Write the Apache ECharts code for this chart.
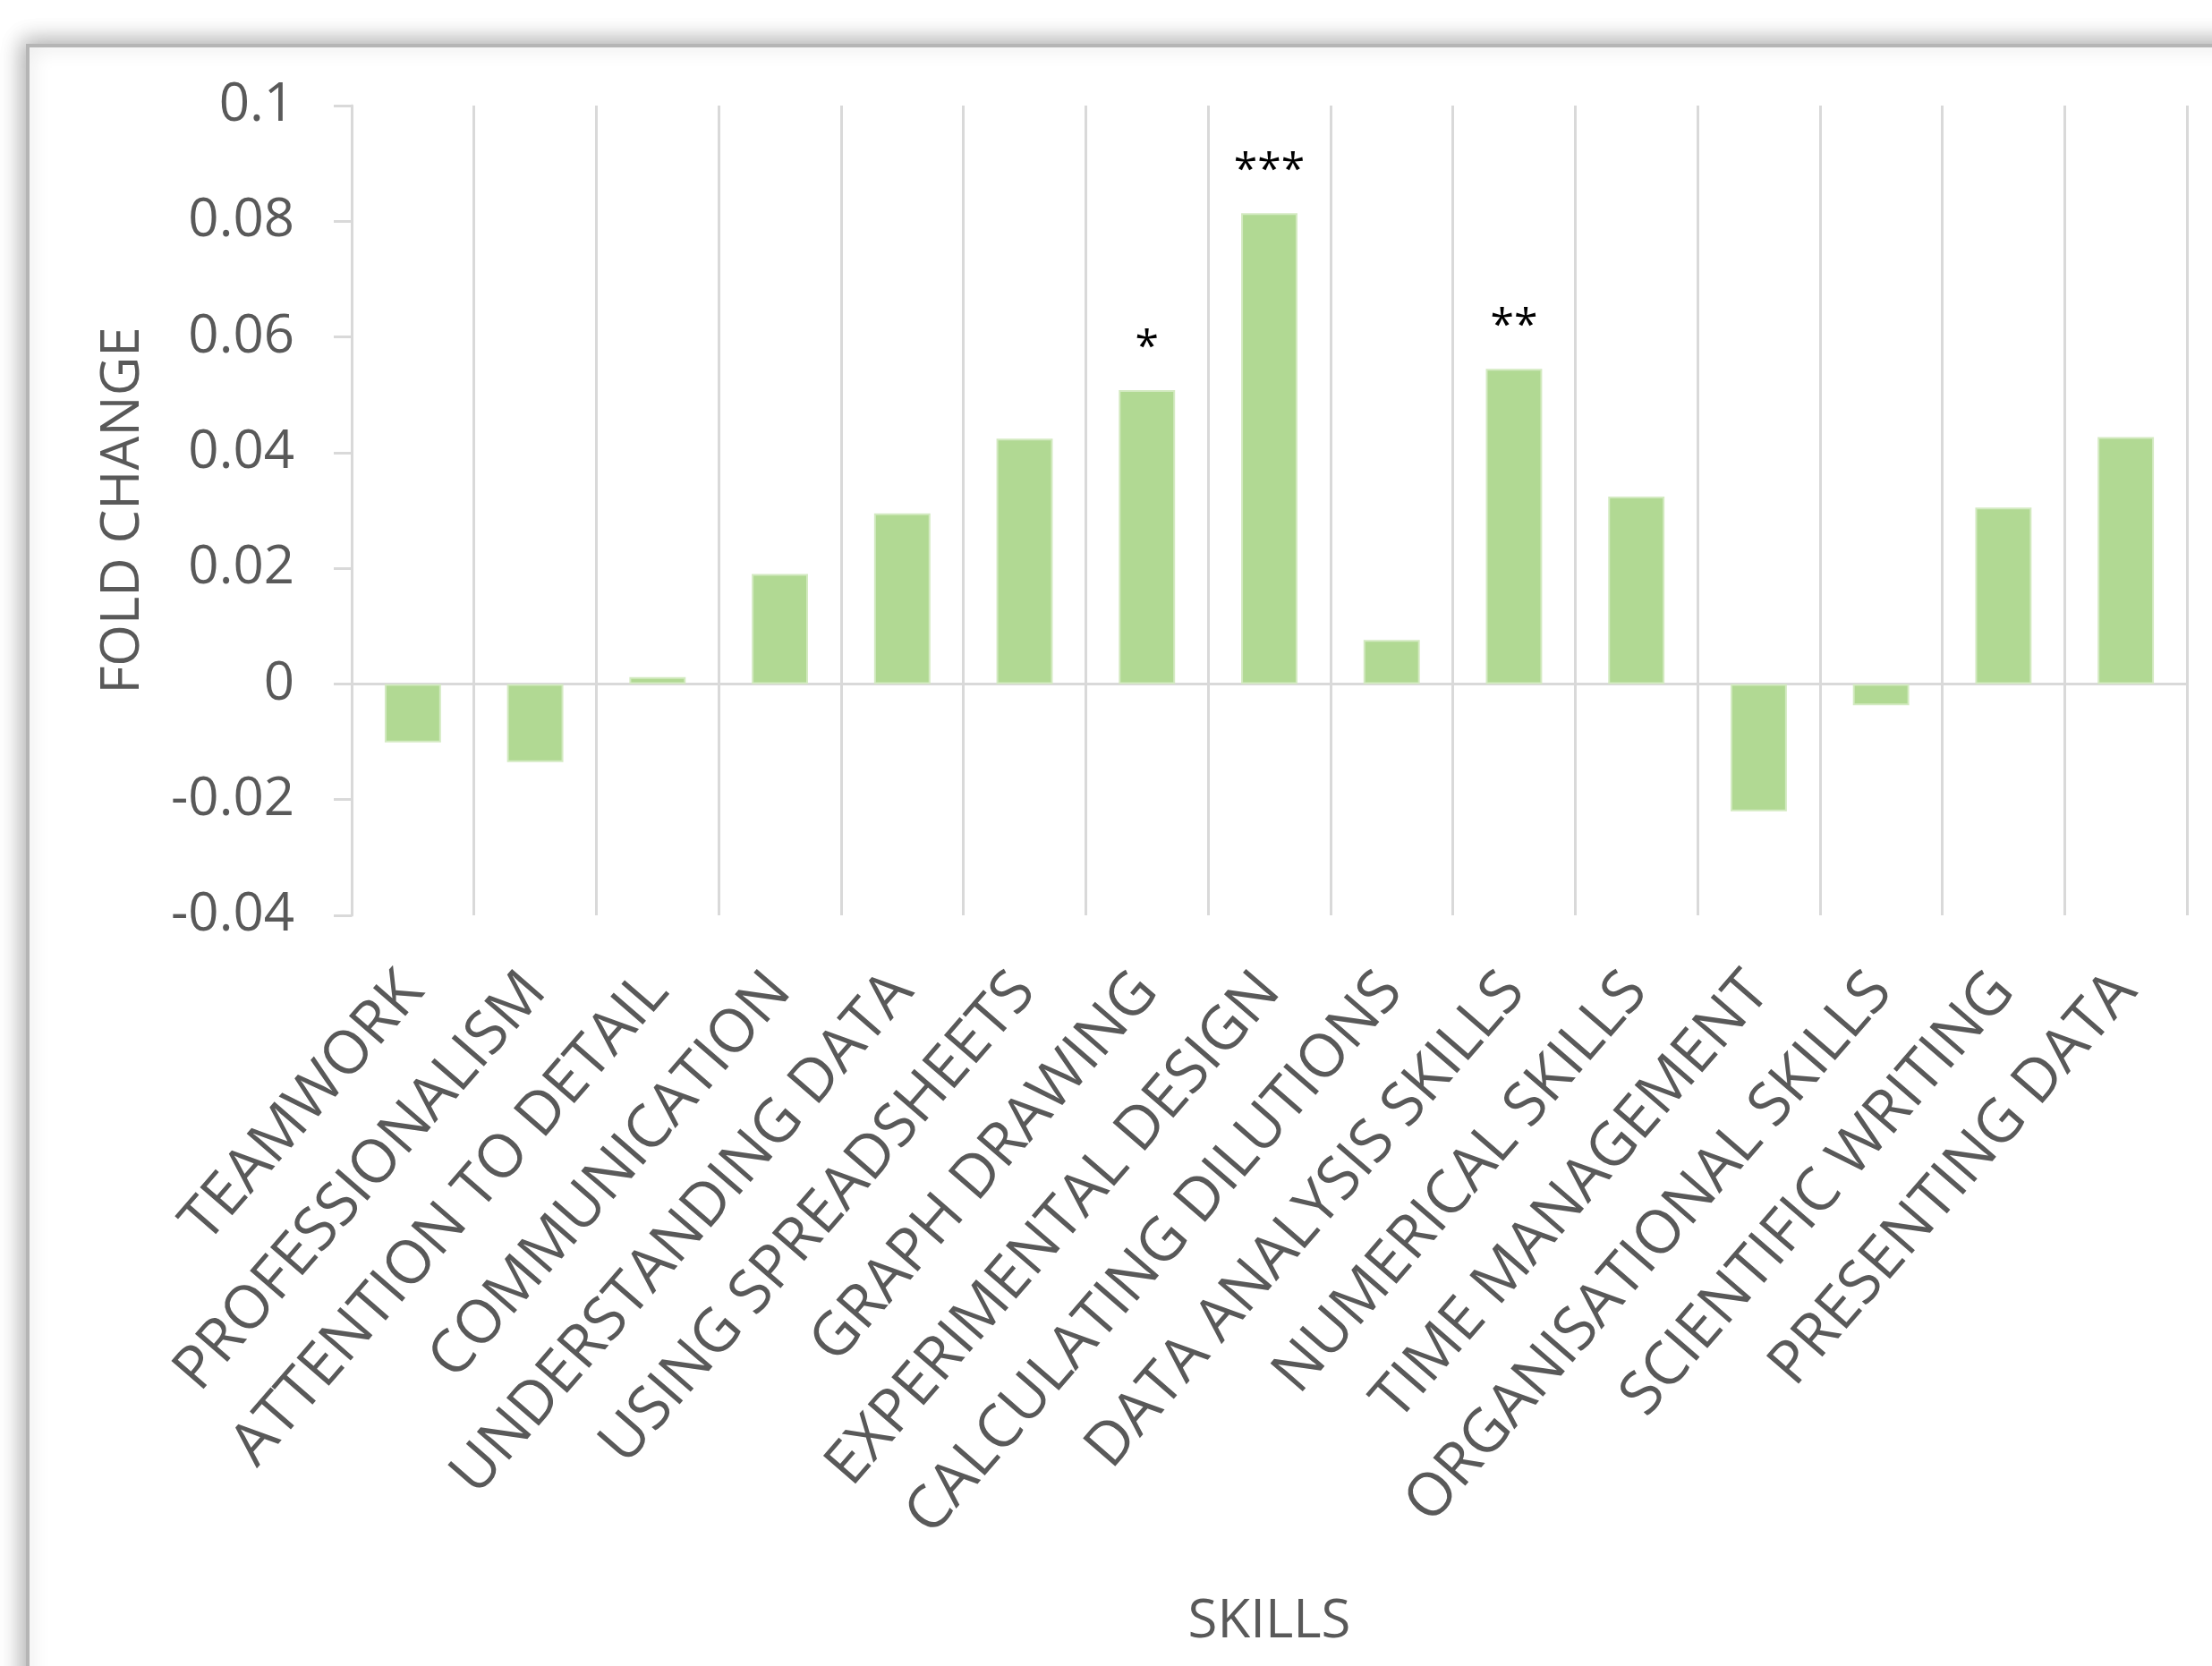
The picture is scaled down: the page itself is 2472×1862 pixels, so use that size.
<!DOCTYPE html>
<html>
<head>
<meta charset="utf-8">
<script src="https://cdn.jsdelivr.net/npm/echarts@6/dist/echarts.min.js"></script>
<style>
html,body{margin:0;padding:0;background:#fff;}
#chart{width:2472px;height:1862px;}
</style>
</head>
<body>
<div id="chart"></div>
<script>
const categories = ["TEAMWORK","PROFESSIONALISM","ATTENTION TO DETAIL","COMMUNICATION","UNDERSTANDING DATA","USING SPREADSHEETS","GRAPH DRAWING","EXPERIMENTAL DESIGN","CALCULATING DILUTIONS","DATA ANALYSIS SKILLS","NUMERICAL SKILLS","TIME MANAGEMENT","ORGANISATIONAL SKILLS","SCIENTIFIC WRITING","PRESENTING DATA"];
const foldChange = [-0.0101, -0.0135, 0.0012, 0.0190, 0.0295, 0.0424, 0.0508, 0.0814, 0.0076, 0.0545, 0.0324, -0.0220, -0.0037, 0.0305, 0.0427];
const significance = ["", "", "", "", "", "", "*", "***", "", "**", "", "", "", "", ""];
const xAxisTitle = "SKILLS";
const yAxisTitle = "FOLD CHANGE";

const FONT = "'Open Sans', 'Noto Sans', sans-serif";
const GRAY = "#595959";
const LINE = "#d9d9d9";

const chart = echarts.init(document.getElementById('chart'), null, {renderer: 'canvas'});
chart.setOption({
  backgroundColor: '#ffffff',
  animation: false,
  graphic: [{
    type: 'rect',
    z: -10,
    silent: true,
    shape: {x: 31, y: 51, width: 2600, height: 2000},
    style: {
      fill: '#ffffff',
      stroke: '#b5b5b5',
      lineWidth: 4,
      shadowBlur: 24,
      shadowColor: 'rgba(0,0,0,0.32)',
      shadowOffsetX: -4,
      shadowOffsetY: -4
    }
  }],
  grid: {left: 393, right: 28, top: 118, bottom: 839, containLabel: false},
  xAxis: [{
    type: 'category',
    data: categories,
    position: 'bottom',
    axisLine: {show: false, onZero: false},
    axisTick: {show: false},
    splitLine: {show: true, lineStyle: {color: LINE, width: 3}},
    axisLabel: {
      interval: 0,
      rotate: 49,
      margin: 74,
      color: GRAY,
      fontFamily: FONT,
      fontSize: 67
    },
    name: xAxisTitle,
    nameLocation: 'middle',
    nameGap: 760,
    nameTextStyle: {color: GRAY, fontFamily: FONT, fontSize: 60}
  }, {
    type: 'category',
    data: categories,
    position: 'bottom',
    axisLine: {show: true, onZero: true, lineStyle: {color: LINE, width: 3}},
    axisTick: {show: true, length: 20, lineStyle: {color: LINE, width: 3}},
    splitLine: {show: false},
    axisLabel: {show: false}
  }],
  yAxis: {
    type: 'value',
    min: -0.04,
    max: 0.1,
    interval: 0.02,
    axisLine: {show: true, lineStyle: {color: LINE, width: 3}},
    axisTick: {show: true, length: 20, lineStyle: {color: LINE, width: 3}},
    splitLine: {show: false},
    axisLabel: {
      margin: 64,
      color: GRAY,
      fontFamily: FONT,
      fontSize: 60,
      formatter: function (v) { return String(Math.round(v * 100) / 100); }
    },
    name: yAxisTitle,
    nameLocation: 'middle',
    nameGap: 225,
    nameRotate: 90,
    nameTextStyle: {color: GRAY, fontFamily: FONT, fontSize: 60}
  },
  series: [{
    type: 'bar',
    xAxisIndex: 0,
    data: foldChange,
    barWidth: '46%',
    itemStyle: {color: '#b1d993', borderColor: '#d3eac1', borderWidth: 2},
    label: {
      show: true,
      position: 'top',
      distance: 23,
      color: '#000000',
      fontFamily: FONT,
      fontSize: 48,
      formatter: function (p) { return significance[p.dataIndex]; }
    }
  }]
});
</script>
</body>
</html>
